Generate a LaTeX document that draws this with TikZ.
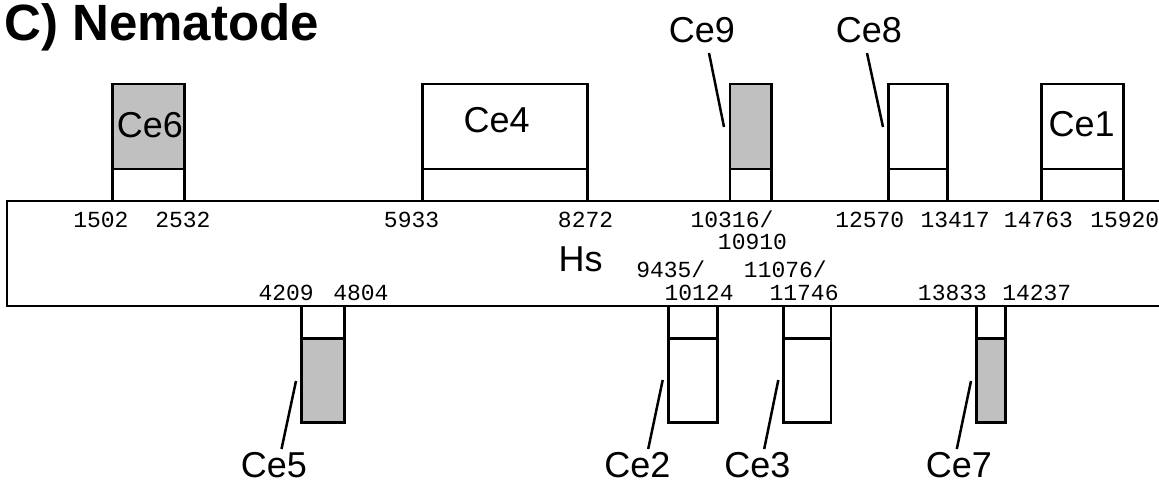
\documentclass[tikz,border=0pt]{standalone}
\usepackage{fontspec}
\setmainfont{Liberation Sans}
\newfontfamily\numfont{Liberation Mono}
\definecolor{exongray}{RGB}{192,192,192}

\begin{document}
\begin{tikzpicture}[x=1pt,y=-1pt,line width=2.5pt,
    num/.style={anchor=base west,inner sep=0pt,font=\numfont\fontsize{23}{23}\selectfont},
    lbl/.style={anchor=base,inner sep=0pt,font=\fontsize{36}{36}\selectfont}]
    \useasboundingbox (0,0) rectangle (1159,484);

    \node[anchor=base west,inner sep=0pt,font=\fontsize{51}{51}\selectfont\bfseries] (title) at (3,40.7) {C) Nematode};

    % human gene
    \draw (7,201) rectangle (1170,306);
    \node[lbl] (hs) at (580.5,271.7) {Hs};

    % exons above
    \foreach \l/\r/\c in {112.7/184.3/exongray, 422.7/587.3/white, 730/771.7/exongray, 888.3/947.7/white, 1041.7/1123.3/white} {
        \draw[fill=\c] (\l,84) rectangle (\r,169);
        \draw (\l,169) rectangle (\r,201);
    }

    % exons below
    \foreach \l/\r/\c in {301.7/344.3/exongray, 668.3/717.3/white, 783.3/831/white, 976.7/1005.3/exongray} {
        \draw (\l,306) rectangle (\r,338.3);
        \draw[fill=\c] (\l,338.3) rectangle (\r,422.7);
    }

    \node[lbl] (ce6) at (150,138) {Ce6};
    \node[lbl] (ce4) at (496.7,132.7) {Ce4};
    \node[lbl] (ce1) at (1081.7,136) {Ce1};
    \node[lbl] (ce9) at (702,43) {Ce9};
    \node[lbl] (ce8) at (869,43) {Ce8};
    \node[lbl] (ce5) at (274,477) {Ce5};
    \node[lbl] (ce2) at (637.5,477) {Ce2};
    \node[lbl] (ce3) at (757.5,477) {Ce3};
    \node[lbl] (ce7) at (959,477) {Ce7};

    % leaders
    \coordinate (ce9a) at (709,53);   \coordinate (ce9b) at (724,127);
    \coordinate (ce8a) at (867,53);   \coordinate (ce8b) at (883,127);
    \coordinate (ce5a) at (281.5,449); \coordinate (ce5b) at (296,381);
    \coordinate (ce2a) at (648.2,449); \coordinate (ce2b) at (662.7,380);
    \coordinate (ce3a) at (764.2,449); \coordinate (ce3b) at (778.3,380);
    \coordinate (ce7a) at (956.8,449); \coordinate (ce7b) at (971,381);
    \foreach \n in {ce9,ce8,ce5,ce2,ce3,ce7}
        \draw (\n a) -- (\n b);

    % coordinates
    \foreach \x/\t in {72/1502, 154/2532, 382.7/5933, 556.7/8272, 834/12570, 919.3/13417, 1002.7/14763, 1089/15920}
        \node[num] (p\t) at (\x,227.5) {\t};
    \node[num] (p10316) at (689.3,227.3) {10316/};
    \node[num] (p10910) at (716.7,249.3) {10910};
    \node[num] (p9435) at (635,277.3) {9435/};
    \node[num] (p11076) at (742.7,277.3) {11076/};
    \foreach \x/\t in {257.3/4209, 332/4804, 663.3/10124, 768.3/11746, 916.7/13833, 1001/14237}
        \node[num] (p\t) at (\x,300) {\t};
\end{tikzpicture}
\end{document}
